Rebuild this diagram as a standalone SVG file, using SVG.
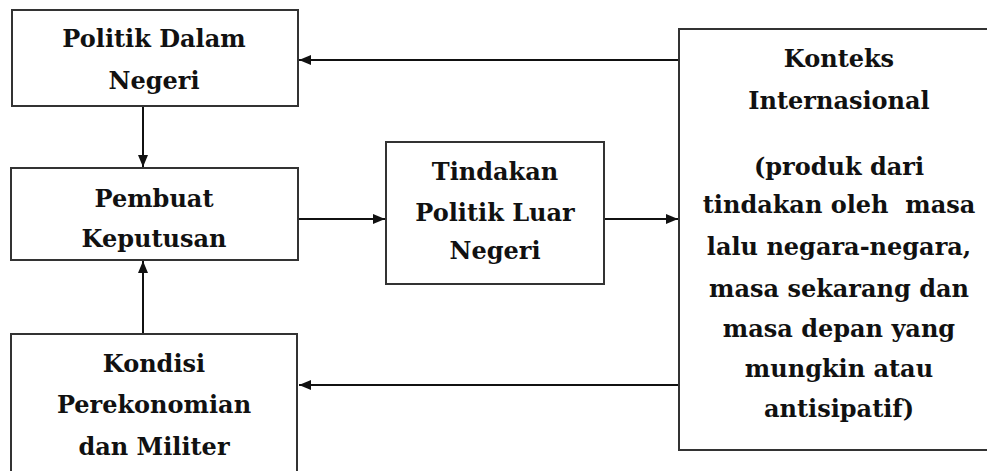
<svg xmlns="http://www.w3.org/2000/svg" width="987" height="471" viewBox="0 0 987 471">
<style>
.box{fill:#fff;stroke:#333;stroke-width:2}
.t{font-family:'DejaVu Serif','Liberation Serif',serif;font-weight:700;font-size:24px;fill:#111;text-anchor:middle}
.c{stroke:#111;stroke-width:2;fill:none}
</style>
<defs>
<marker id="ah" viewBox="0 0 12 10" refX="12" refY="5" markerWidth="12" markerHeight="10" markerUnits="userSpaceOnUse" orient="auto">
<path d="M0,0 L12,5 L0,10 Z" fill="#111"/>
</marker>
</defs>
<rect width="987" height="471" fill="#fff"/>
<g id="connectors">
<line class="c" x1="679" y1="60" x2="299" y2="60" marker-end="url(#ah)"/>
<line class="c" x1="679" y1="385" x2="299" y2="385" marker-end="url(#ah)"/>
<line class="c" x1="143" y1="106" x2="143" y2="167" marker-end="url(#ah)"/>
<line class="c" x1="143" y1="334" x2="143" y2="261" marker-end="url(#ah)"/>
<line class="c" x1="298" y1="219" x2="385" y2="219" marker-end="url(#ah)"/>
<line class="c" x1="604" y1="219" x2="678" y2="219" marker-end="url(#ah)"/>
</g>
<g id="politik-dalam-negeri">
<rect class="box" x="12" y="10" width="286" height="96"/>
<text class="t" x="154" y="47">Politik Dalam</text>
<text class="t" x="154" y="89">Negeri</text>
</g>
<g id="pembuat-keputusan">
<rect class="box" x="11" y="168" width="287" height="92"/>
<text class="t" x="154" y="207">Pembuat</text>
<text class="t" x="154" y="247">Keputusan</text>
</g>
<g id="kondisi">
<rect class="box" x="11" y="334" width="286" height="145"/>
<text class="t" x="154" y="372">Kondisi</text>
<text class="t" x="154" y="413">Perekonomian</text>
<text class="t" x="154" y="455">dan Militer</text>
</g>
<g id="tindakan">
<rect class="box" x="386" y="142" width="218" height="142"/>
<text class="t" x="495" y="180">Tindakan</text>
<text class="t" x="495" y="221">Politik Luar</text>
<text class="t" x="495" y="259">Negeri</text>
</g>
<g id="konteks">
<rect class="box" x="679" y="29" width="320" height="421"/>
<text class="t" x="839" y="67">Konteks</text>
<text class="t" x="839" y="109">Internasional</text>
<text class="t" x="839" y="175">(produk dari</text>
<text class="t" x="839" y="213" style="white-space:pre" xml:space="preserve">tindakan oleh  masa</text>
<text class="t" x="839" y="255">lalu negara-negara,</text>
<text class="t" x="839" y="297">masa sekarang dan</text>
<text class="t" x="839" y="337">masa depan yang</text>
<text class="t" x="839" y="377">mungkin atau</text>
<text class="t" x="839" y="417">antisipatif)</text>
</g>
</svg>
